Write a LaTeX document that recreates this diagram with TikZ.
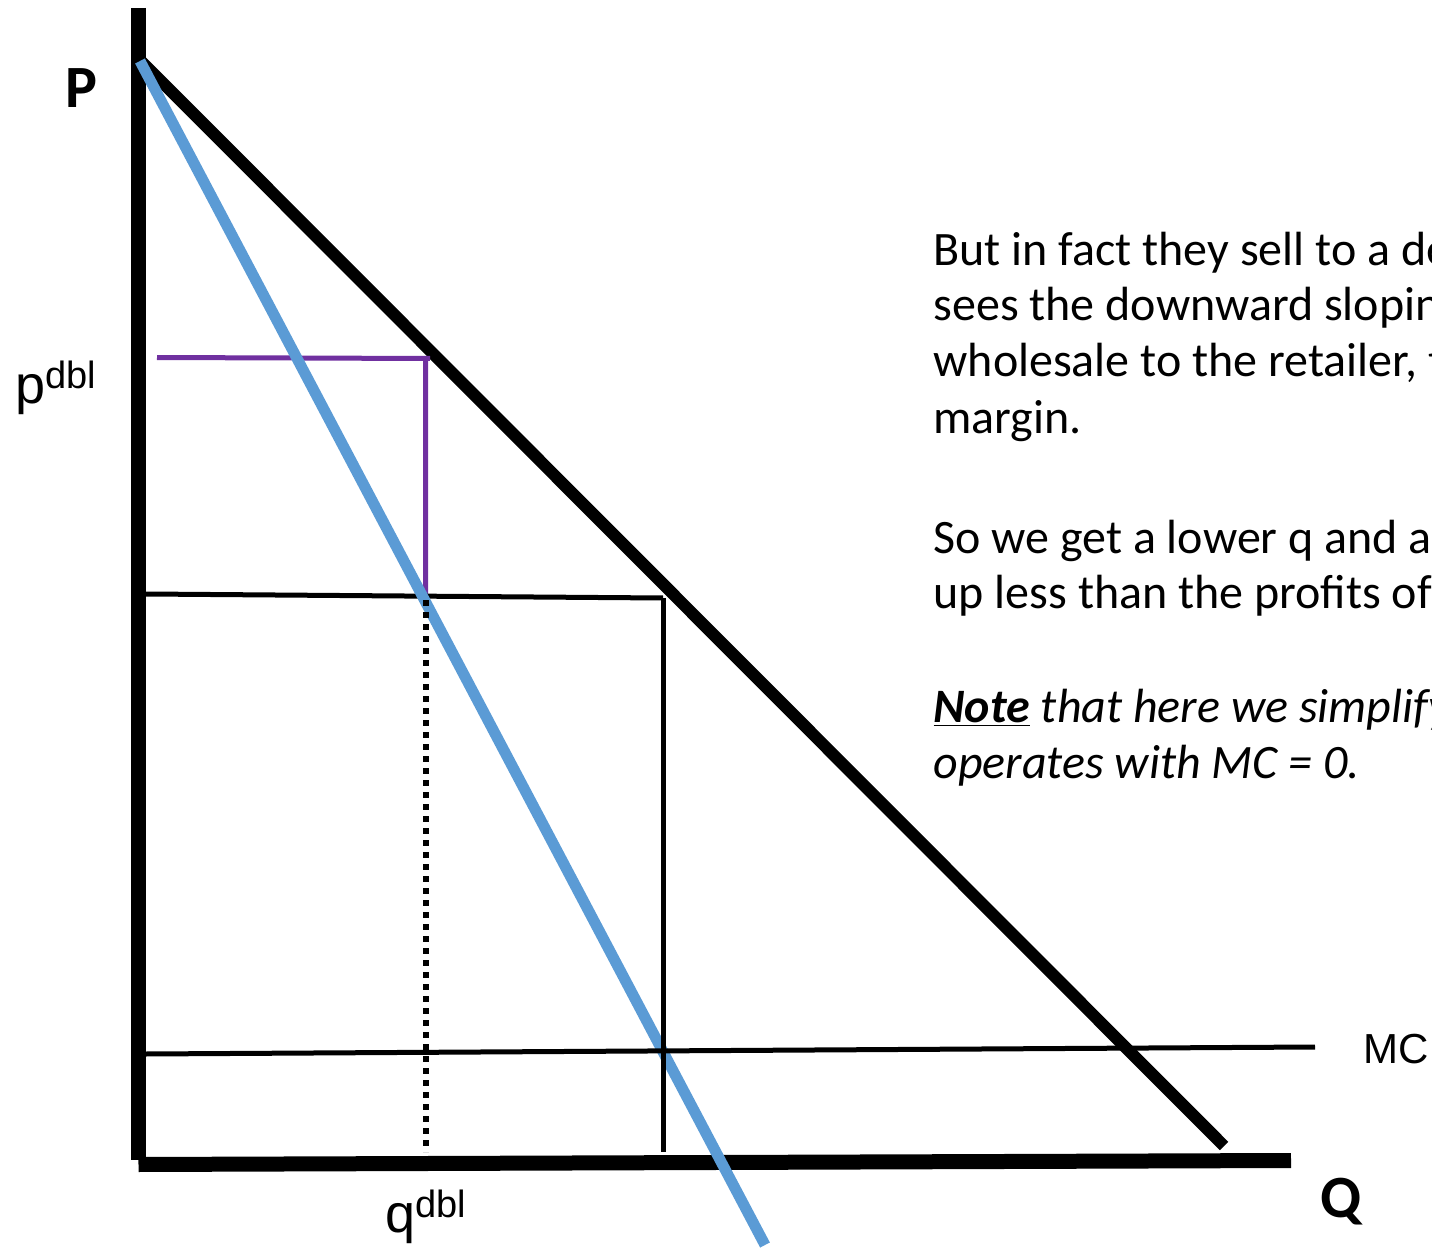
\documentclass[tikz,border=0pt]{standalone}
\usepackage{fontspec}
\setmainfont{Carlito}
\newfontfamily\arialfont{Liberation Sans}
\definecolor{mrblue}{HTML}{5B9BD5}
\definecolor{dblpurple}{HTML}{7030A0}
\newcommand\supdbl{\raisebox{7.5pt}{\fontsize{19}{19}\selectfont dbl}}

\begin{document}
\begin{tikzpicture}[x=.5pt,y=-.5pt,line width=2.5pt,
  axis/.style={line width=7.5pt},
  txt/.style={anchor=base west,inner sep=0pt,font=\fontsize{24}{29}\selectfont},
  lbl/.style={anchor=base west,inner sep=0pt,font=\arialfont\fontsize{27}{30}\selectfont},
  big/.style={anchor=base west,inner sep=0pt,font=\bfseries\fontsize{30}{30}\selectfont}]
\useasboundingbox (0,0) rectangle (1432,1252);
\coordinate (D0) at (140,60);\coordinate (D1) at (1224,1146);
\coordinate (M0) at (140,61);\coordinate (M1) at (765,1245);
\draw[axis] (138.5,8)--(138.5,1160);
\draw[axis] (138.5,1164.5)--(1291,1160.5);
\draw[line width=6pt] (D0)--(D1);
\draw[dblpurple] (157,357.5)--(430,358.5) (425.5,358.5)--(425.5,594);
\draw (146,594)--(663,598) coordinate (C);
\draw[mrblue,line width=5.5pt] (M0)--(M1);
\draw (C)--(663,1152);
\draw[line width=3pt,dash pattern=on 3pt off 3pt] (426,600)--(426,1152);
\draw (146,1054)--(1315,1047) coordinate (MC);
\node[big] (P) at (63,108) {P};
\node[big] (Q) at (1318,1217) {Q};
\node[lbl] (pd) at (13,403) {p\supdbl};
\node[lbl] (qd) at (383,1232) {q\supdbl};
\node[lbl,font=\arialfont\fontsize{21}{24}\selectfont] (mcl) at (1361,1063) {MC};
\begin{scope}
\clip (0,0) rectangle (1432,1252);
\node[txt] (t1) at (931,265) {But in fact they sell to a de};
\node[txt] (t2) at (931,321) {sees the downward sloping};
\node[txt] (t3) at (931,377) {wholesale to the retailer, t};
\node[txt] (t4) at (931,433) {margin.};
\node[txt] (t5) at (931,553) {So we get a lower q and a};
\node[txt] (t6) at (931,608) {up less than the profits of};
\node[txt] (t7) at (931,722) {\underline{\textbf{\textit{Note}}} \textit{that here we simplify}};
\node[txt] (t8) at (931,778) {\textit{operates with MC = 0.}};
\end{scope}
\end{tikzpicture}
\end{document}
